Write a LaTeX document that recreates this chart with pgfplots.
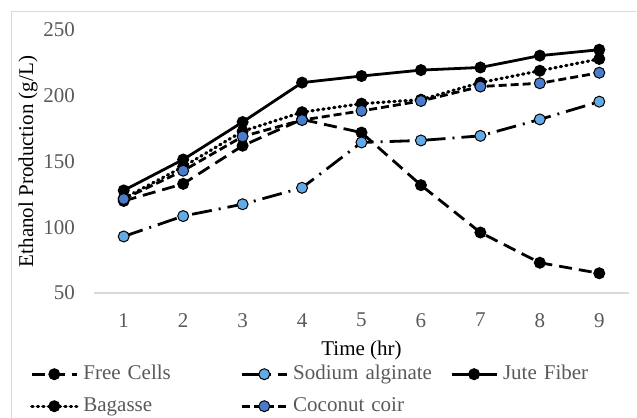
\documentclass[border=0pt]{standalone}
\usepackage{pgfplots}
\pgfplotsset{compat=1.18}
\usepackage{fontspec}
\setmainfont{Liberation Serif}

\definecolor{txtgray}{HTML}{595959}
\definecolor{framegray}{HTML}{D9D9D9}
\definecolor{sodblue}{HTML}{64AAE4}
\definecolor{cocblue}{HTML}{4A7CCB}

\pgfplotsset{
  lineleg/.style={legend image code/.code={
    \draw[mark repeat=2,mark phase=2] plot coordinates {(0bp,0bp) (22.5bp,0bp) (45bp,0bp)};}},
}

\begin{document}
\begin{tikzpicture}
\fontsize{21bp}{25bp}\selectfont
\useasboundingbox (-94bp,-125bp) rectangle (543bp,293bp);
\draw[framegray, line width=1bp] (-82bp,-130bp) -- (-82bp,281bp) -- (542bp,281bp);

\begin{axis}[
  at={(0bp,0bp)}, anchor=south west,
  scale only axis, width=535bp, height=263bp,
  xmin=0.5, xmax=9.5, ymin=50, ymax=250,
  xtick={1,...,9}, ytick={50,100,150,200,250},
  axis line style={draw=none},
  major tick length=0pt,
  /pgf/number format/assume math mode=true,
  tick label style={font=\fontsize{21bp}{25bp}\selectfont, text=txtgray},
  xticklabel style={anchor=north, inner sep=0pt, yshift=-20bp},
  yticklabel style={anchor=east, inner sep=0pt, xshift=-19bp},
  label style={font=\fontsize{21bp}{25bp}\selectfont, text=txtgray},
  xlabel={Time (hr)}, ylabel={Ethanol Production (g/L)},
  every axis x label/.style={at={(axis description cs:0.5,0)}, yshift=-57bp, anchor=center},
  every axis y label/.style={at={(axis description cs:0,0.5)}, xshift=-66bp, rotate=90, anchor=center},
  legend columns=3,
  legend style={draw=none, fill=none, inner sep=0pt,
    at={(axis description cs:-0.1196,-0.27)}, anchor=north west,
    font=\fontsize{21bp}{25bp}\selectfont, text=txtgray,
    nodes={text width=148bp, align=left, text height=14bp, text depth=4bp, inner sep=1bp},
    row sep=12bp,
    /tikz/every odd column/.append style={column sep=4bp},
    /tikz/every even column/.append style={column sep=8bp}},
  every axis plot/.append style={line width=2.8bp, lineleg},
]
\draw[framegray, line width=1.5bp] (axis cs:0.5,50) -- (axis cs:9.5,50);

\addplot[black, dash pattern=on 13bp off 7bp, mark=*, mark size=5.5bp,
  mark options={solid, fill=black, line width=1bp}]
  coordinates {(1,120) (2,133) (3,162) (4,182) (5,172) (6,132) (7,96) (8,73) (9,65)};
\addlegendentry{Free Cells}

\addplot[black, dash pattern=on 20bp off 7bp on 2bp off 7bp, mark=*, mark size=5.5bp,
  mark options={solid, fill=sodblue, line width=1bp}]
  coordinates {(1,93) (2,108.5) (3,117.5) (4,130) (5,164.5) (6,166) (7,169.5) (8,182) (9,195.5)};
\addlegendentry{Sodium alginate}

\addplot[black, solid, mark=*, mark size=5.5bp,
  mark options={solid, fill=black, line width=1bp}]
  coordinates {(1,128) (2,151.5) (3,180) (4,210) (5,215) (6,219.5) (7,221.5) (8,230.5) (9,235)};
\addlegendentry{Jute Fiber}

\addplot[black, line width=3.2bp, dash pattern=on 1.2bp off 4.3bp, line cap=round, mark=*, mark size=5.5bp,
  mark options={solid, fill=black, line width=1bp}]
  coordinates {(1,122) (2,146) (3,173) (4,187.5) (5,194) (6,197) (7,210) (8,219) (9,228)};
\addlegendentry{Bagasse}

\addplot[black, dash pattern=on 8bp off 4bp, mark=*, mark size=5.5bp,
  mark options={solid, fill=cocblue, line width=1bp}]
  coordinates {(1,121.5) (2,143) (3,169) (4,181.5) (5,188.5) (6,196) (7,207) (8,209.5) (9,217.5)};
\addlegendentry{Coconut coir}
\end{axis}
\end{tikzpicture}
\end{document}
